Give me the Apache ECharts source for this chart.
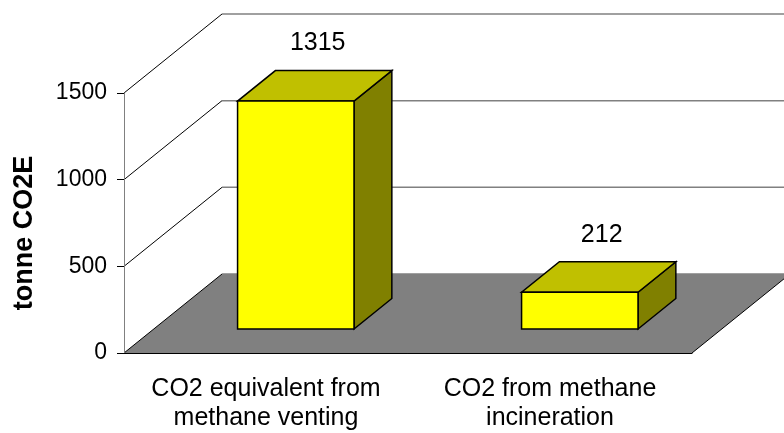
<!DOCTYPE html>
<html>
<head>
<meta charset="utf-8">
<script src="https://cdn.jsdelivr.net/npm/echarts@6/dist/echarts.min.js"></script>
<style>
    html, body { margin: 0; padding: 0; background: #fff; }
    #chart { width: 784px; height: 433px; }
</style>
</head>
<body>
<div id="chart"></div>
<script>
const categories = ['CO2 equivalent from\nmethane venting', 'CO2 from methane\nincineration'];
const values = [1315, 212];
const yTicks = [0, 500, 1000, 1500];
const yTitle = 'tonne CO2E';

// fake 3d: how far the back wall sits from the front plane, in px
const DEPTH_X = 98, DEPTH_Y = -79;
// where the bar sits inside that depth (0 = front, 1 = back)
const BAR_FRONT = 0.304, BAR_BACK = 0.69;
const BAR_WIDTH = 0.41;   // part of the category band

const FONT = '"Liberation Sans", Arial, sans-serif';

let chart = echarts.init(document.getElementById('chart'));

function renderWalls(params, api) {
    let cs = params.coordSys;
    let left = cs.x, right = cs.x + cs.width;
    let y0 = api.coord([0, 0])[1];
    let children = [];
    // floor
    children.push({
        type: 'polygon',
        shape: {points: [[left, y0], [right, y0], [right + DEPTH_X, y0 + DEPTH_Y], [left + DEPTH_X, y0 + DEPTH_Y]]},
        style: {fill: '#808080', stroke: null}
    });
    children.push({
        type: 'line',
        shape: {x1: right, y1: y0, x2: right + DEPTH_X, y2: y0 + DEPTH_Y},
        style: {stroke: '#000', lineWidth: 1}
    });
    yTicks.forEach(v => {
        let y = api.coord([0, v])[1];
        children.push({
            type: 'line',
            shape: {x1: left, y1: y, x2: left + DEPTH_X, y2: y + DEPTH_Y},
            style: {stroke: '#000', lineWidth: 1}
        });
        children.push({
            type: 'line',
            shape: {x1: left + DEPTH_X, y1: y + DEPTH_Y, x2: right + DEPTH_X, y2: y + DEPTH_Y},
            style: {stroke: '#808080', lineWidth: 1.5}
        });
    });
    return {type: 'group', children: children};
}

function renderBar(params, api) {
    let i = api.value(0);
    let base = api.coord([i, 0]);
    let top = api.coord([i, api.value(1)]);
    let w = api.size([1, 0])[0] * BAR_WIDTH;
    let fx = DEPTH_X * BAR_FRONT, fy = DEPTH_Y * BAR_FRONT;
    let dx = DEPTH_X * (BAR_BACK - BAR_FRONT), dy = DEPTH_Y * (BAR_BACK - BAR_FRONT);
    let l = base[0] - w / 2 + fx, r = base[0] + w / 2 + fx;
    let b = base[1] + fy, t = top[1] + fy;
    let edge = {stroke: '#000', lineWidth: 1.5, lineJoin: 'miter'};
    return {
        type: 'group',
        children: [
            {type: 'polygon', shape: {points: [[r, t], [r + dx, t + dy], [r + dx, b + dy], [r, b]]},
                style: Object.assign({fill: '#808000'}, edge)},
            {type: 'polygon', shape: {points: [[l, t], [r, t], [r + dx, t + dy], [l + dx, t + dy]]},
                style: Object.assign({fill: '#C0C000'}, edge)},
            {type: 'rect', shape: {x: l, y: t, width: r - l, height: b - t},
                style: Object.assign({fill: '#FFFF00'}, edge)},
            {type: 'text', x: (l + r) / 2 + dx / 2 + 3, y: t + dy - 27,
                style: {text: String(api.value(1)), fill: '#000', font: '25px ' + FONT,
                    align: 'center', verticalAlign: 'middle'}}
        ]
    };
}

chart.setOption({
    animation: false,
    grid: {left: 124, right: 92, top: 93, bottom: 80},
    xAxis: {
        type: 'category',
        data: categories,
        z: 10,
        axisLine: {lineStyle: {color: '#000', width: 1}},
        axisTick: {length: 7, lineStyle: {color: '#000'}},
        axisLabel: {interval: 0, margin: 22, color: '#000', fontFamily: FONT, fontSize: 25, lineHeight: 29}
    },
    yAxis: {
        type: 'value',
        min: 0,
        max: 1500,
        interval: 500,
        z: 10,
        splitLine: {show: false},
        axisLine: {show: true, lineStyle: {color: '#808080', width: 1}},
        axisTick: {show: true, length: 7, lineStyle: {color: '#000'}},
        axisLabel: {margin: 17, color: '#000', fontFamily: FONT, fontSize: 23, formatter: v => String(v)}
    },
    graphic: [{
        type: 'text',
        x: 25,
        y: 233,
        rotation: Math.PI / 2,
        style: {text: yTitle, fill: '#000', font: 'bold 27px ' + FONT, align: 'center', verticalAlign: 'middle'}
    }],
    series: [
        {
            type: 'custom',
            renderItem: renderWalls,
            data: [[0, 0]],
            clip: false,
            silent: true,
            z: 1
        },
        {
            type: 'custom',
            renderItem: renderBar,
            data: values.map((v, i) => [i, v]),
            clip: false,
            z: 2
        }
    ]
});

window.addEventListener('resize', () => chart.resize());
</script>
</body>
</html>
